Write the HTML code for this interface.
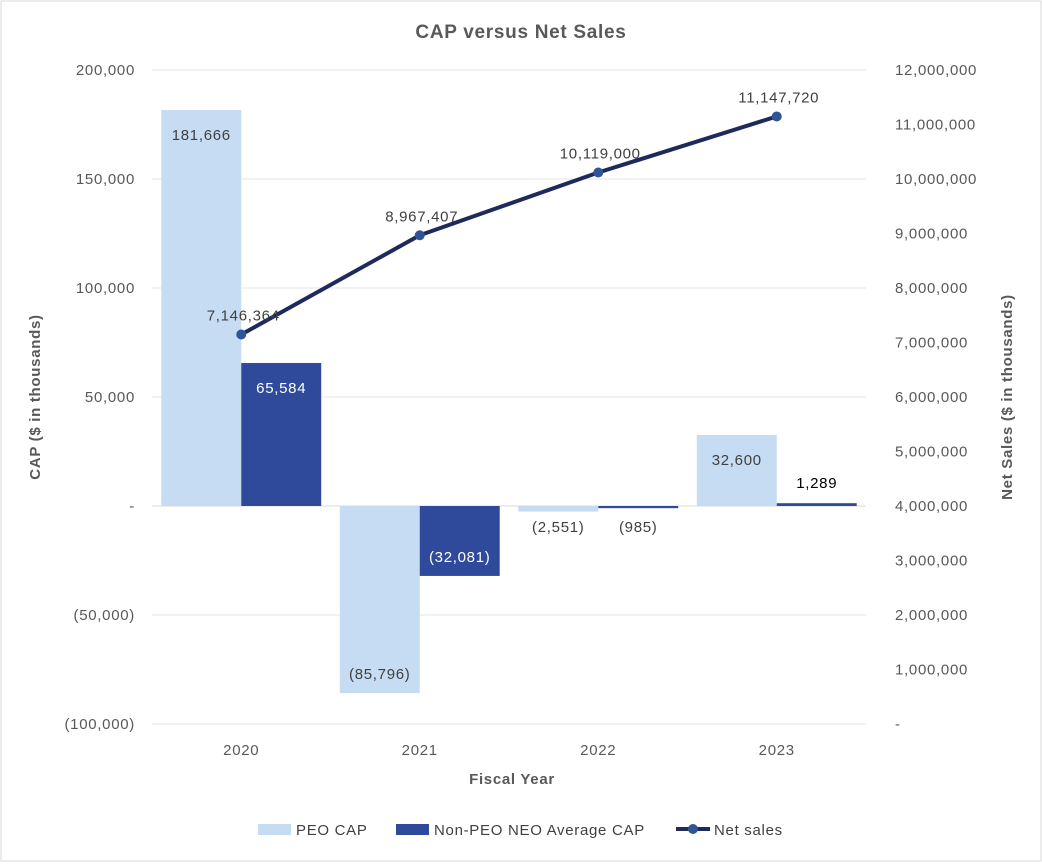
<!DOCTYPE html>
<html><head><meta charset="utf-8"><style>
body{margin:0;background:#fff;}
svg text{font-family:"Liberation Sans",sans-serif;letter-spacing:0.7px;}
</style></head><body>
<svg id="chart" width="1042" height="862" xmlns="http://www.w3.org/2000/svg">
<rect x="1" y="1" width="1040" height="860" fill="#fff" stroke="#d9d9d9"/>
<text x="521" y="38" text-anchor="middle" font-size="19" font-weight="bold" fill="#595959">CAP versus Net Sales</text>
<g id="grid"></g><g id="bars"></g><g id="line"></g><g id="labels"></g>
<text transform="translate(40,397) rotate(-90)" text-anchor="middle" font-size="15" font-weight="bold" fill="#595959">CAP ($ in thousands)</text>
<text transform="translate(1012,397) rotate(-90)" text-anchor="middle" font-size="15" font-weight="bold" fill="#595959">Net Sales ($ in thousands)</text>
<text x="512" y="784" text-anchor="middle" font-size="15" font-weight="bold" fill="#595959">Fiscal Year</text>
<g>
<rect x="258" y="824" width="33" height="11" fill="#c5dcf2"/>
<text x="296" y="835" font-size="15" fill="#404040">PEO CAP</text>
<rect x="396" y="824" width="33" height="11" fill="#2f4a9b"/>
<text x="434" y="835" font-size="15" fill="#404040">Non-PEO NEO Average CAP</text>
<line x1="676" y1="829" x2="710" y2="829" stroke="#1f2a5c" stroke-width="4"/>
<circle cx="693" cy="829" r="5" fill="#2f5597"/>
<text x="714" y="835" font-size="15" fill="#404040">Net sales</text>
</g>
</svg>
<script>
const categories=["2020","2021","2022","2023"];
const peoCap=[181666,-85796,-2551,32600];
const nonPeoCap=[65584,-32081,-985,1289];
const netSales=[7146364,8967407,10119000,11147720];
const leftTicks=[200000,150000,100000,50000,0,-50000,-100000];
const rightTicks=[12000000,11000000,10000000,9000000,8000000,7000000,6000000,5000000,4000000,3000000,2000000,1000000,0];
const NS="http://www.w3.org/2000/svg";
const X0=152,X1=866,YT=70,YB=724;
const yL=v=>YT+(200000-v)/300000*(YB-YT);
const yR=v=>YT+(12000000-v)/12000000*(YB-YT);
const bw=(X1-X0)/categories.length;
const cx=i=>X0+bw*(i+0.5);
const fmt=v=>v===0?"-":(v<0?"("+Math.abs(v).toLocaleString("en-US")+")":v.toLocaleString("en-US"));
function mk(tag,attrs,parent,txt){const e=document.createElementNS(NS,tag);for(const k in attrs)e.setAttribute(k,attrs[k]);if(txt!==undefined)e.textContent=txt;document.getElementById(parent).appendChild(e);return e;}
leftTicks.forEach(t=>{
 const g=mk("line",{x1:X0,x2:X1,y1:yL(t),y2:yL(t),stroke:t===0?"#d9d9d9":"#e6e6e6","stroke-width":1},"grid");
 
 
 const l=mk("text",{x:135,y:yL(t)+5,"text-anchor":"end","font-size":15,fill:"#595959"},"grid",fmt(t));
 
 
});
rightTicks.forEach(t=>{
 const l=mk("text",{x:895,y:yR(t)+5,"text-anchor":"start","font-size":15,fill:"#595959"},"grid",fmt(t));
 
 
});
const bW=bw*0.448;
categories.forEach((c,i)=>{
 const l=mk("text",{x:cx(i),y:755,"text-anchor":"middle","font-size":15,fill:"#595959"},"grid",c);
 
 
 [[peoCap,"#c5dcf2",-1,"#404040"],[nonPeoCap,"#2f4a9b",0,"#fff"]].forEach(([arr,col,off,tc],s)=>{
  const v=arr[i],y0=yL(0),y1=yL(v);
  const x=cx(i)+off*bW;
  const r=mk("rect",{x:x,y:Math.min(y0,y1),width:bW,height:Math.max(Math.abs(y1-y0),1.5),fill:col},"bars");
  
  
  const h=Math.abs(y1-y0);let ty,color=tc;
  if(h<40){ty=v<0?y0+26:y1-15;color="#404040";if(s&&v>=0)color="#000";}
  else ty=v<0?y1-14:y1+30;
  const t=mk("text",{x:x+bW/2,y:ty,"text-anchor":"middle","font-size":15,fill:color},"labels",fmt(v));
  
  
 });
});
const pts=netSales.map((v,i)=>[cx(i),yR(v)]);
const pl=mk("polyline",{points:pts.map(p=>p.join(",")).join(" "),fill:"none",stroke:"#1f2a5c","stroke-width":4,"stroke-linejoin":"round"},"line");


pts.forEach((p,i)=>{
 const c=mk("circle",{cx:p[0],cy:p[1],r:5,fill:"#2f5597"},"line");
 
 
 const t=mk("text",{x:p[0]+2,y:p[1]-14,"text-anchor":"middle","font-size":15,fill:"#404040"},"labels",fmt(netSales[i]));
 
 
});
</script>
</body></html>
